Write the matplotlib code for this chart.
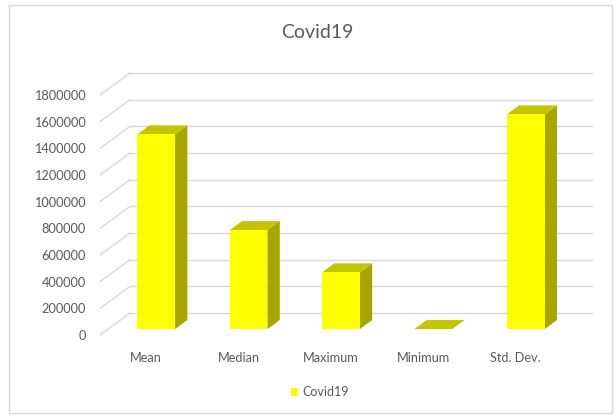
import matplotlib
matplotlib.use("Agg")
import matplotlib.pyplot as plt
from matplotlib.patches import Polygon, Rectangle, Patch
from matplotlib.transforms import ScaledTranslation, IdentityTransform

plt.rcParams['font.family'] = ['Lato', 'DejaVu Sans']

categories = ['Mean', 'Median', 'Maximum', 'Minimum', 'Std. Dev.']
values = [1460000, 742000, 425000, 1, 1610000]
yticks = [0, 200000, 400000, 600000, 800000, 1000000, 1200000, 1400000, 1600000, 1800000]
series_name = 'Covid19'

W, H = 615, 416
fig = plt.figure(figsize=(W / 100, H / 100), dpi=100)
fig.patch.set_facecolor('white')

# front plane of the 3d box, in pixels of the picture
ax = fig.add_axes([100 / W, (H - 335) / H, 462 / W, 240 / H])
ax.set_xlim(-0.5, len(categories) - 0.5)
ax.set_ylim(0, 1800000)
ax.patch.set_visible(False)
for s in ax.spines.values():
    s.set_visible(False)

txt = '#595959'
grid = '#d9d9d9'
ax.set_yticks(yticks)
ax.set_yticklabels([str(t) for t in yticks])
ax.set_xticks(range(len(categories)))
ax.set_xticklabels(categories)
ax.tick_params(axis='y', length=0, pad=10, labelsize=9.2, labelcolor=txt)
ax.tick_params(axis='x', length=0, pad=12, labelsize=9.2, labelcolor=txt)

# depth of the box (inches, dpi 100)
DX, DY = 0.30, 0.22


def pt(x, y, d):
    tr = ax.transData + ScaledTranslation(d * DX, d * DY, fig.dpi_scale_trans)
    return tr.transform((x, y))


def poly(pts, color, z):
    p = Polygon(pts, closed=True, facecolor=color, edgecolor='none',
                transform=IdentityTransform(), clip_on=False, zorder=z)
    ax.add_patch(p)


x0, x1 = ax.get_xlim()
for v in yticks:
    # back wall
    a, b = pt(x0, v, 1), pt(x1, v, 1)
    ax.plot([a[0], b[0]], [a[1], b[1]], color=grid, lw=1,
            transform=IdentityTransform(), clip_on=False, zorder=1)
    # side wall
    c = pt(x0, v, 0)
    ax.plot([c[0], a[0]], [c[1], a[1]], color=grid, lw=1,
            transform=IdentityTransform(), clip_on=False, zorder=1)

# bars
bw = 0.41
d0, d1 = 0.27, 0.68
front_col = '#ffff00'
top_col = '#c4c400'
side_col = '#a6a600'
for i, v in enumerate(values):
    l, r = i - bw / 2 + 0.02, i + bw / 2 + 0.02
    poly([pt(r, 0, d0), pt(r, 0, d1), pt(r, v, d1), pt(r, v, d0)], side_col, 3)
    poly([pt(l, v, d0), pt(r, v, d0), pt(r, v, d1), pt(l, v, d1)], top_col, 3)
    poly([pt(l, 0, d0), pt(r, 0, d0), pt(r, v, d0), pt(l, v, d0)], front_col, 4)

fig.text(317 / W, 1 - 32 / H, 'Covid19', ha='center', va='center',
         fontsize=14, color=txt)

fig.legend(handles=[Patch(facecolor=front_col, edgecolor='none', label=series_name)],
           loc='center', bbox_to_anchor=(320 / W, 1 - 392 / H), frameon=False,
           handlelength=0.55, handleheight=0.6, handletextpad=0.3,
           fontsize=9, labelcolor=txt)

fig.patches.append(Rectangle((9 / W, 3 / H), (W - 12) / W, (H - 8) / H,
                             transform=fig.transFigure, fill=False,
                             edgecolor=grid, lw=1))

fig.savefig('out.png', dpi=100)
